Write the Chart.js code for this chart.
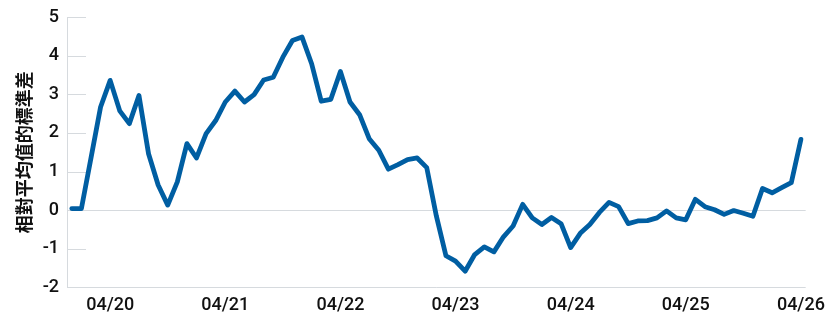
<!DOCTYPE html>
<html>
<head>
<meta charset="utf-8">
<script src="https://cdn.jsdelivr.net/npm/chart.js@4"></script>
<style>
  html, body { margin: 0; padding: 0; background: #fff; }
  #wrap { width: 832px; height: 327px; }
</style>
</head>
<body>
<div id="wrap"><canvas id="chart" width="832" height="327"></canvas></div>
<script>
// ===== Data =====
// monthly observations, 12/19 .. 04/26
const START_YEAR = 2019, START_MONTH = 12, N_MONTHS = 77;
const months = [];
for (let i = 0; i < N_MONTHS; i++) {
  const m = (START_MONTH - 1 + i) % 12 + 1;
  const y = START_YEAR + Math.floor((START_MONTH - 1 + i) / 12);
  months.push(String(m).padStart(2, '0') + '/' + String(y % 100).padStart(2, '0'));
}
const tickMonth = '04';

const zScore = [
  0.04, 0.04, 1.35, 2.67, 3.36, 2.57, 2.24, 2.97, 1.46, 0.65, 0.13, 0.73,
  1.72, 1.35, 1.98, 2.32, 2.80, 3.08, 2.80, 2.99, 3.37, 3.44, 3.96, 4.39,
  4.48, 3.79, 2.82, 2.87, 3.59, 2.80, 2.47, 1.85, 1.55, 1.06, 1.18, 1.31,
  1.35, 1.10, -0.15, -1.18, -1.32, -1.58, -1.15, -0.95, -1.08, -0.69, -0.41, 0.15,
  -0.20, -0.37, -0.19, -0.35, -0.97, -0.60, -0.37, -0.06, 0.20, 0.09, -0.35, -0.28,
  -0.27, -0.20, -0.02, -0.20, -0.25, 0.28, 0.09, 0.01, -0.11, -0.01, -0.08, -0.16,
  0.56, 0.45, 0.58, 0.71, 1.83
];

const yTitle = '相對平均值的標準差';
const Y_MIN = -2, Y_MAX = 5;

// ===== Styles =====
const LINE = '#005ea2';
const GRID = '#d6dade';
const TEXT = '#111111';

// short tick marks inside the plot for every y value
const shortTicks = {
  id: 'shortTicks',
  beforeDatasetsDraw(chart) {
    const { ctx, chartArea, scales: { y } } = chart;
    ctx.save();
    ctx.strokeStyle = GRID;
    ctx.lineWidth = 1;
    y.ticks.forEach(t => {
      const py = Math.round(y.getPixelForValue(t.value)) + 0.5;
      ctx.beginPath();
      ctx.moveTo(chartArea.left, py);
      ctx.lineTo(chartArea.left + 19, py);
      ctx.stroke();
    });
    ctx.restore();
  }
};

new Chart(document.getElementById('chart').getContext('2d'), {
  type: 'line',
  data: {
    labels: months,
    datasets: [{
      data: zScore,
      borderColor: LINE,
      borderWidth: 4.8,
      pointRadius: 0,
      tension: 0,
      borderJoinStyle: 'round',
      borderCapStyle: 'round',
      fill: false
    }]
  },
  options: {
    responsive: false,
    animation: false,
    layout: { padding: { top: 0, right: 22, bottom: 4, left: 0 } },
    plugins: {
      legend: { display: false },
      tooltip: { enabled: false }
    },
    scales: {
      x: {
        offset: true,
        grid: { display: false, drawTicks: false },
        border: { display: false },
        ticks: {
          autoSkip: false,
          maxRotation: 0,
          padding: 7,
          color: TEXT,
          font: { family: 'Roboto', size: 18, weight: '500' },
          callback: (v, i) => months[i].startsWith(tickMonth + '/') ? months[i] : ''
        }
      },
      y: {
        min: Y_MIN,
        max: Y_MAX,
        afterFit: s => { s.width = 67; },
        grid: {
          drawTicks: false,
          color: c => (c.tick && (c.tick.value === 0 || c.tick.value === Y_MIN)) ? GRID : 'rgba(0,0,0,0)'
        },
        border: { display: true, color: GRID },
        ticks: {
          stepSize: 1,
          padding: 8,
          color: TEXT,
          font: { family: 'Roboto', size: 18, weight: '500', lineHeight: 1 }
        },
        title: {
          display: true,
          text: yTitle,
          color: TEXT,
          padding: { top: 13, bottom: 0 },
          font: { family: '"Noto Sans CJK TC"', size: 18, weight: 'bold' }
        }
      }
    }
  },
  plugins: [shortTicks]
});
</script>
</body>
</html>
